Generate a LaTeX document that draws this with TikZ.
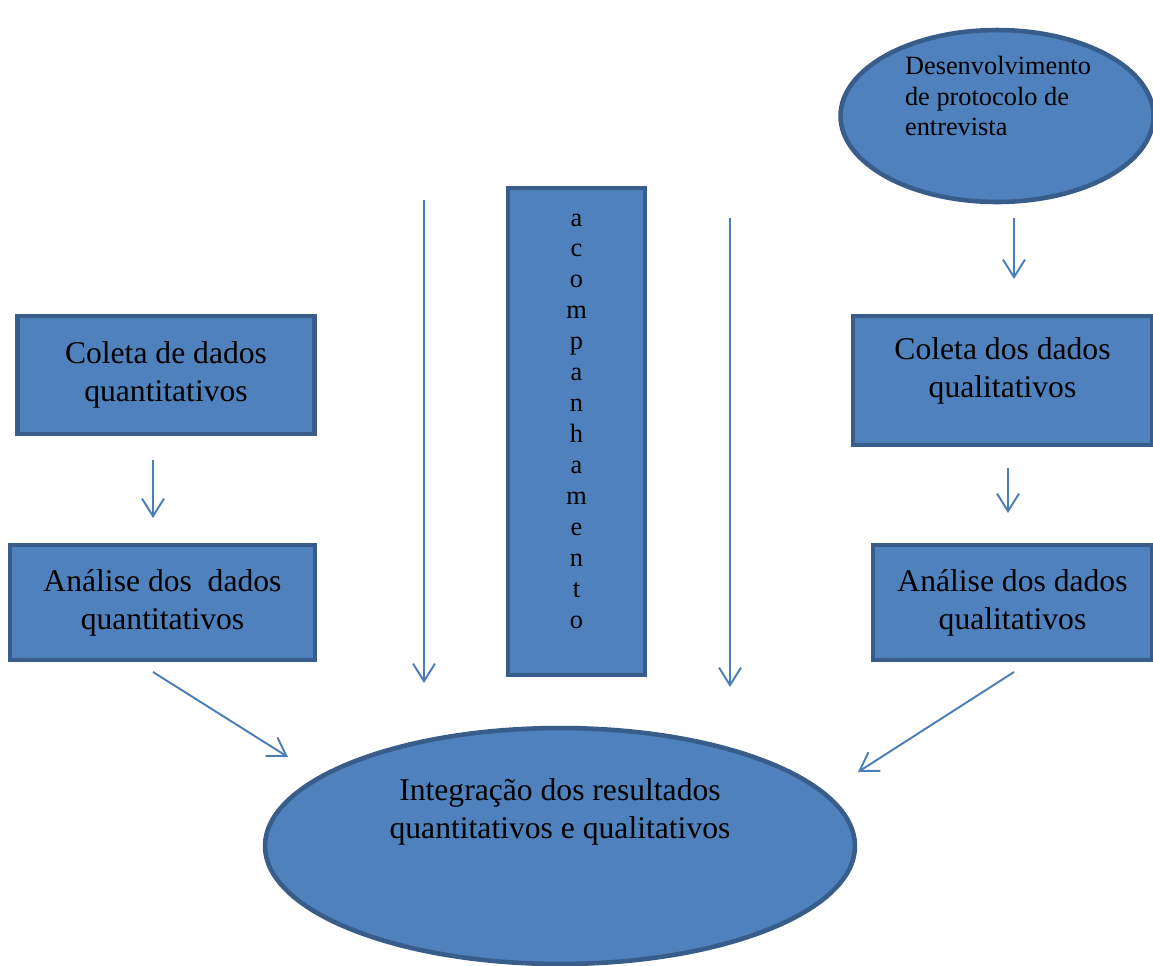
\documentclass[tikz,border=0pt]{standalone}
\usepackage{fontspec}
\setmainfont{Liberation Serif}
\usepackage{tikz}
\usetikzlibrary{arrows.meta,shapes.geometric,positioning}
\definecolor{boxfill}{HTML}{4F81BD}
\definecolor{boxline}{HTML}{385D8A}
\definecolor{arrline}{HTML}{4A7EBB}
\newcommand{\bigtxt}{\fontsize{18}{21.5}\selectfont}
\newcommand{\smalltxt}{\fontsize{15}{17.6}\selectfont}

\begin{document}
\begin{tikzpicture}[x=0.02cm,y=-0.02cm,
    box/.style={draw=boxline,fill=boxfill,line width=2.6pt,rectangle,align=center,font=\bigtxt,inner sep=0pt},
    oval/.style={draw=boxline,fill=boxfill,line width=2.6pt,ellipse,inner sep=0pt},
    arr/.style={color=arrline,line width=1.1pt,-{Straight Barb[length=10pt,width=12.5pt]}}]
     \useasboundingbox (0,0) rectangle (1153,965);
     % quantitative side
     \node[box,minimum width=5.94cm,minimum height=2.36cm] (col_quant) at (166,375) {Coleta de dados\\quantitativos};
     \node[box,minimum width=6.1cm,minimum height=2.3cm] (ana_quant) at (162.5,602.5) {Análise dos\ \ dados\\quantitativos};
     % middle
     \node[box,minimum width=2.74cm,minimum height=9.74cm] (acomp) at (576.5,431.5) {};
     \node[font=\smalltxt,align=center] (acomp_txt) at (576.5,421) {a\\c\\o\\m\\p\\a\\n\\h\\a\\m\\e\\n\\t\\o};
     % qualitative side
     \node[oval,minimum width=6.26cm,minimum height=3.44cm] (proto) at (997,116) {};
     \node[font=\smalltxt,align=left] (proto_txt) at (998,96) {Desenvolvimento\\de protocolo de\\entrevista};
     \node[box,minimum width=5.98cm,minimum height=2.58cm] (col_qual) at (1002.5,380.5) {};
     \node[font=\bigtxt,align=center] (col_qual_txt) at (1002.5,371) {Coleta dos dados\\qualitativos};
     \node[box,minimum width=5.58cm,minimum height=2.3cm] (ana_qual) at (1012.5,602.5) {Análise dos dados\\qualitativos};
     % integration
     \node[oval,minimum width=11.8cm,minimum height=4.72cm] (integ) at (560,846) {};
     \node[font=\bigtxt,align=center] (integ_txt) at (560,812) {Integração dos resultados\\quantitativos e qualitativos};
     % arrow ends
     \coordinate (q_s) at (153,460);   \coordinate (q_e) at (153,518);
     \coordinate (l_s) at (424,200);   \coordinate (l_e) at (424,683);
     \coordinate (r_s) at (730,218);   \coordinate (r_e) at (730,687);
     \coordinate (p_s) at (1014,218);  \coordinate (p_e) at (1014,279);
     \coordinate (c_s) at (1008,468);  \coordinate (c_e) at (1008,513);
     \coordinate (dq_s) at (153,672);  \coordinate (dq_e) at (288,757);
     \coordinate (dl_s) at (1014,672); \coordinate (dl_e) at (858,772);
     \path[arr]
      (q_s) edge (q_e)
      (l_s) edge (l_e)
      (r_s) edge (r_e)
      (p_s) edge (p_e)
      (c_s) edge (c_e)
      (dq_s) edge (dq_e)
      (dl_s) edge (dl_e);
\end{tikzpicture}
\end{document}
